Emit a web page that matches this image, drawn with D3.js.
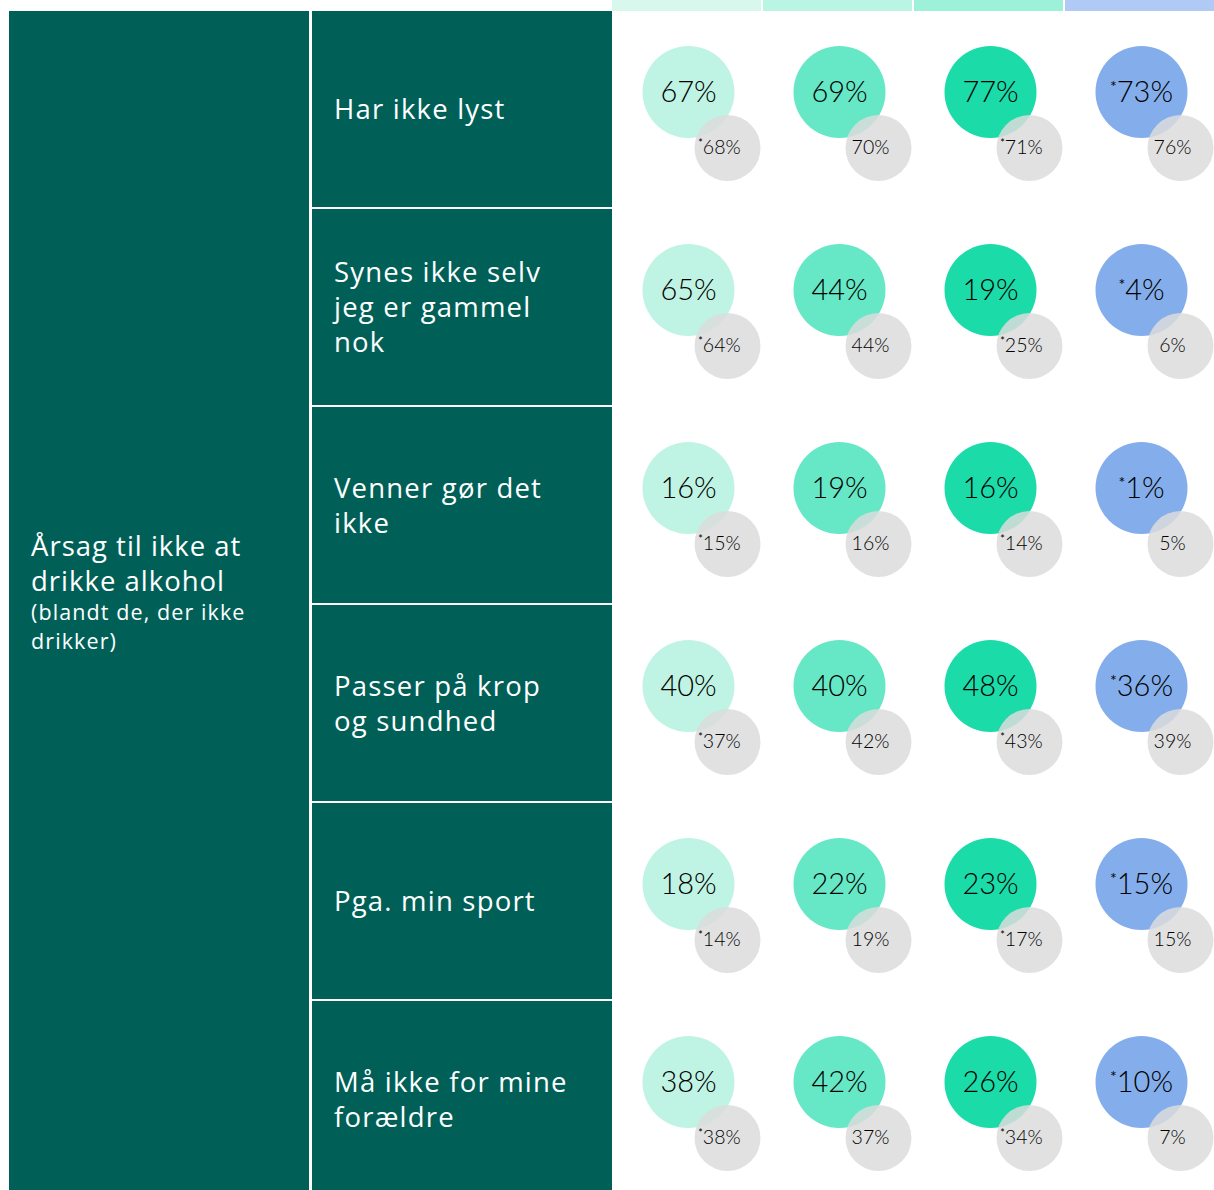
<!DOCTYPE html>
<html>
<head>
<meta charset="utf-8">
<script src="https://cdn.jsdelivr.net/npm/d3@7"></script>
<style>
  body { margin: 0; background: #fff; }
  svg { display: block; }
</style>
</head>
<body>
<div id="chart"></div>
<script>
//chart values
var rows = ["Har ikke lyst", "Synes ikke selv jeg er gammel nok", "Venner gør det ikke",
  "Passer på krop og sundhed", "Pga. min sport", "Må ikke for mine forældre"];
//line breaks of the row labels
var rowLines = [["Har ikke lyst"], ["Synes ikke selv", "jeg er gammel", "nok"], ["Venner gør det", "ikke"],
  ["Passer på krop", "og sundhed"], ["Pga. min sport"], ["Må ikke for mine", "forældre"]];
var cols = ["c1", "c2", "c3", "c4"];

//main value per row (4 columns) and asterisk flags
var mainValues = [[67, 69, 77, 73], [65, 44, 19, 4], [16, 19, 16, 1], [40, 40, 48, 36], [18, 22, 23, 15], [38, 42, 26, 10]];
var mainStar = [false, false, false, true];

//comparison value (grey bubble) and asterisk flags
var compValues = [[68, 70, 71, 76], [64, 44, 25, 6], [15, 16, 14, 5], [37, 42, 43, 39], [14, 19, 17, 15], [38, 37, 34, 7]];
var compStar = [true, false, true, false];

var colColors = ["#bff4e4", "#66e8c6", "#1bdba8", "#84aeeb"];
var stripColors = ["#d8f8ee", "#baf4e2", "#9ef1d9", "#b1caf5"];

var svgWidth = 1214, svgHeight = 1190;
var teal = "#006058";
var labelFont = "'Open Sans', Lato, sans-serif";

var svg = d3.select("#chart").append("svg")
  .attr("width", svgWidth)
  .attr("height", svgHeight);

var y = d3.scaleBand().domain(rows).range([11, 11 + 198 * 6]);
var x = d3.scaleBand().domain(cols).range([612, 1216]);

//top colour strips
svg.selectAll(".strip")
  .data(cols)
  .enter().append("rect")
  .attr("x", d => x(d))
  .attr("y", 0)
  .attr("width", x.bandwidth() - 2)
  .attr("height", 11)
  .attr("fill", (d, i) => stripColors[i]);

//left panel
svg.append("rect")
  .attr("x", 9).attr("y", 11)
  .attr("width", 300).attr("height", svgHeight - 11)
  .attr("fill", teal);

var title = svg.append("text")
  .attr("x", 31)
  .attr("fill", "#fff")
  .style("font-family", labelFont);
title.append("tspan").attr("x", 31).attr("y", 556).style("font-size", "27.5px").style("letter-spacing", "1px").text("Årsag til ikke at");
title.append("tspan").attr("x", 31).attr("y", 591).style("font-size", "27.5px").style("letter-spacing", "1px").text("drikke alkohol");
title.append("tspan").attr("x", 31).attr("y", 620).style("font-size", "21.5px").style("letter-spacing", "1.1px").text("(blandt de, der ikke");
title.append("tspan").attr("x", 31).attr("y", 649).style("font-size", "21.5px").style("letter-spacing", "1.1px").text("drikker)");

//row label panels
var rowG = svg.selectAll(".row")
  .data(rows)
  .enter().append("g")
  .attr("class", "row");

rowG.append("rect")
  .attr("x", 312)
  .attr("y", d => y(d))
  .attr("width", 300)
  .attr("height", y.bandwidth() - 2)
  .attr("fill", teal);

rowG.each(function(d, i) {
  var lines = rowLines[i];
  var mid = y(d) + y.bandwidth() / 2;
  var start = mid - (lines.length - 1) * 35 / 2 + 9;
  var t = d3.select(this).append("text")
    .attr("fill", "#fff")
    .style("font-family", labelFont)
    .style("font-size", "27.5px")
    .style("letter-spacing", "1.2px");
  lines.forEach(function(l, k) {
    t.append("tspan").attr("x", 334).attr("y", start + k * 35).text(l);
  });
});

//bubbles
var cells = [];
rows.forEach(function(r, i) {
  cols.forEach(function(c, j) {
    cells.push({row: r, col: c, j: j, main: mainValues[i][j], comp: compValues[i][j]});
  });
});

var cellG = svg.selectAll(".cell")
  .data(cells)
  .enter().append("g")
  .attr("class", "cell")
  .attr("transform", d => `translate(${x(d.col) + x.bandwidth() / 2 + 1}, ${y(d.row) + 81})`);

cellG.append("circle")
  .attr("r", 46)
  .attr("fill", d => colColors[d.j]);

cellG.append("circle")
  .attr("cx", 39).attr("cy", 56)
  .attr("r", 33)
  .attr("fill", "#dcdcdc")
  .attr("opacity", 0.85);

function label(sel, star, value, size) {
  if (star) {
    sel.append("tspan").attr("dy", -size * 0.35).style("font-size", (size * 0.55) + "px").style("font-weight", 400).text("*");
    sel.append("tspan").attr("dy", size * 0.35).text(value + "%");
  } else {
    sel.text(value + "%");
  }
}

cellG.append("text")
  .attr("x", 0).attr("y", 10)
  .attr("text-anchor", "middle")
  .attr("fill", "#000")
  .style("font-family", "Lato, sans-serif")
  .style("font-weight", 300)
  .style("font-size", "29px")
  .each(function(d) { label(d3.select(this), mainStar[d.j], d.main, 29); });

cellG.append("text")
  .attr("x", 31).attr("y", 62)
  .attr("text-anchor", "middle")
  .attr("fill", "#000")
  .style("font-family", "Lato, sans-serif")
  .style("font-weight", 300)
  .style("font-size", "19.5px")
  .each(function(d) { label(d3.select(this), compStar[d.j], d.comp, 19.5); });
</script>
</body>
</html>
